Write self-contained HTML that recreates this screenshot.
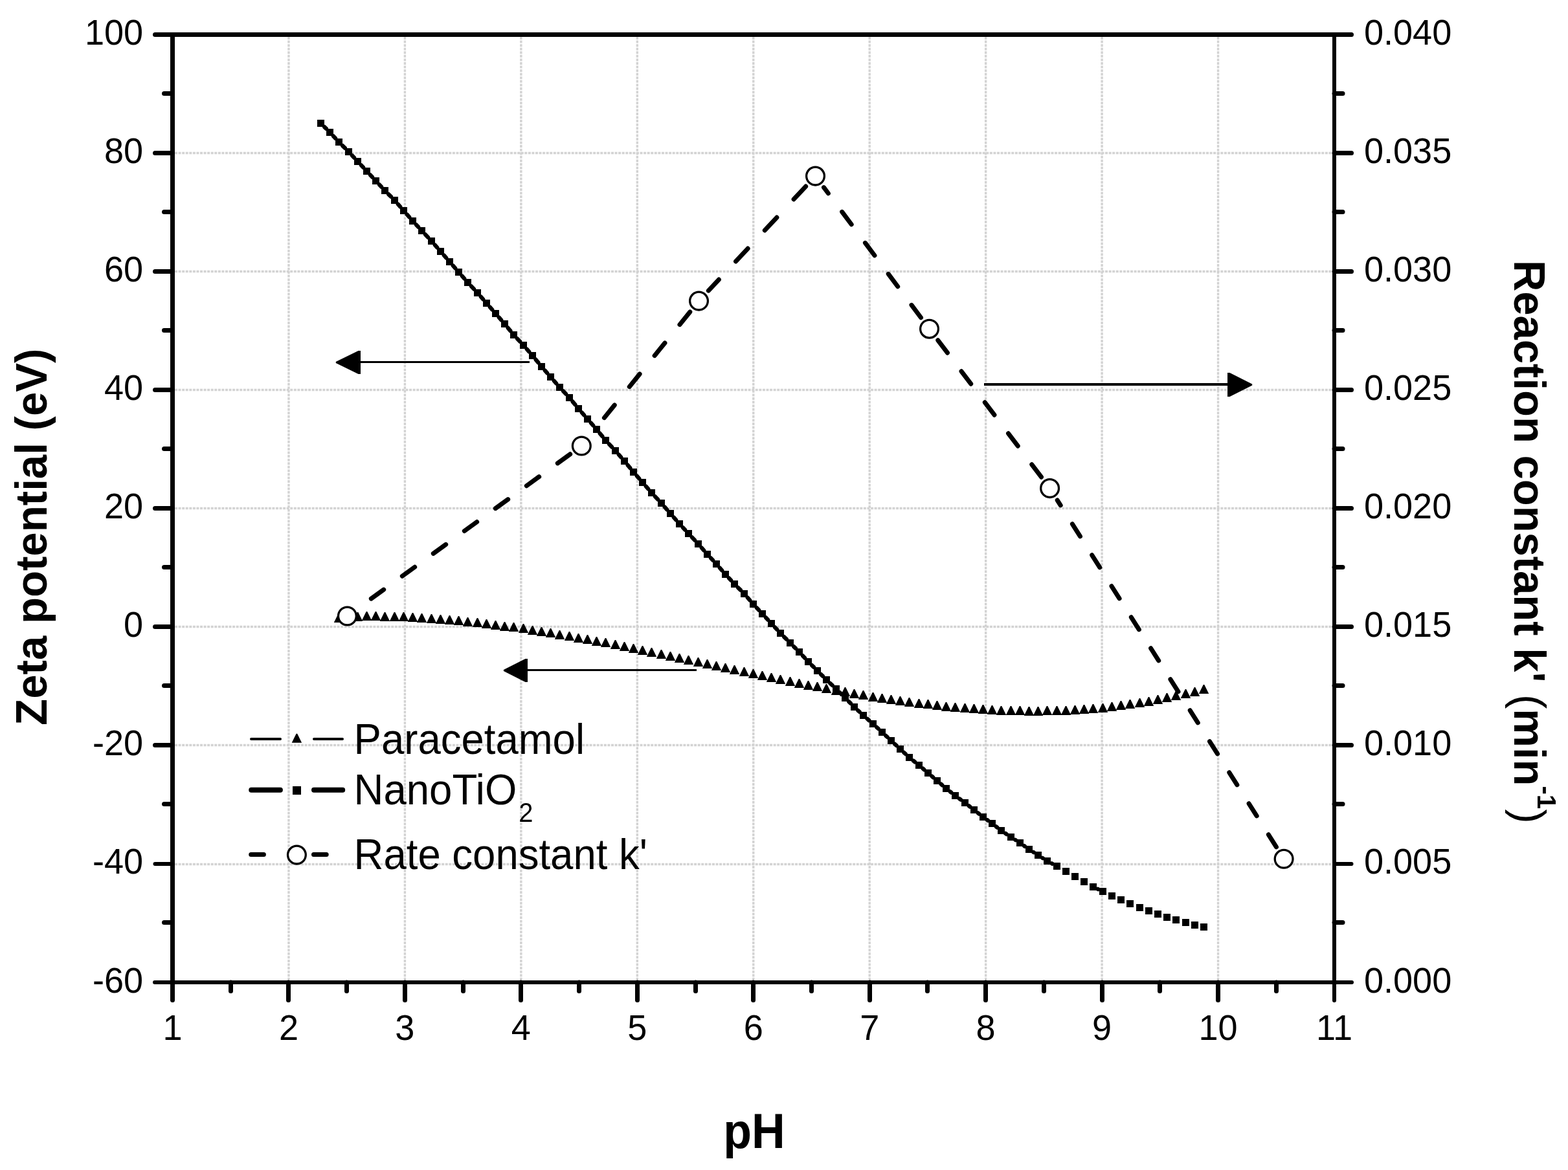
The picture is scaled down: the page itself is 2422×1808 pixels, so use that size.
<!DOCTYPE html>
<html lang="en"><head><meta charset="utf-8"><title>Zeta potential and reaction constant vs pH</title>
<style>html,body{margin:0;padding:0;background:#fff}body{width:2422px;height:1808px;overflow:hidden}svg{display:block}text{fill:#000}</style></head><body>
<svg role="img" aria-label="Zeta potential and reaction constant versus pH" width="2422" height="1808" viewBox="0 0 2422 1808" font-family="'Liberation Sans', sans-serif">
<rect width="2422" height="1808" fill="#fff"/>
<g stroke="#d3d3d3" stroke-width="3.4" stroke-dasharray="4 1.57" fill="none">
<line x1="445.95" y1="57" x2="445.95" y2="1515"/>
<line x1="625.4" y1="57" x2="625.4" y2="1515"/>
<line x1="804.85" y1="57" x2="804.85" y2="1515"/>
<line x1="984.3" y1="57" x2="984.3" y2="1515"/>
<line x1="1163.75" y1="57" x2="1163.75" y2="1515"/>
<line x1="1343.2" y1="57" x2="1343.2" y2="1515"/>
<line x1="1522.65" y1="57" x2="1522.65" y2="1515"/>
<line x1="1702.1" y1="57" x2="1702.1" y2="1515"/>
<line x1="1881.55" y1="57" x2="1881.55" y2="1515"/>
<line x1="270" y1="236.5" x2="2058" y2="236.5"/>
<line x1="270" y1="419.5" x2="2058" y2="419.5"/>
<line x1="270" y1="602.5" x2="2058" y2="602.5"/>
<line x1="270" y1="785.5" x2="2058" y2="785.5"/>
<line x1="270" y1="968.5" x2="2058" y2="968.5"/>
<line x1="270" y1="1151.5" x2="2058" y2="1151.5"/>
<line x1="270" y1="1335.5" x2="2058" y2="1335.5"/>
</g>
<g fill="#000">
<path d="M522.7 948h1.6l6.9 14h-15.4zM537.7 947h1.6l6.9 14h-15.4zM551.7 946h1.6l6.9 14h-15.4zM565.7 945h1.6l6.9 14h-15.4zM579.7 945h1.6l6.9 14h-15.4zM593.7 946h1.6l6.9 14h-15.4zM608.7 946h1.6l6.9 14h-15.4zM622.7 946h1.6l6.9 14h-15.4zM636.7 947h1.6l6.9 14h-15.4zM650.7 948h1.6l6.9 14h-15.4zM665.7 949h1.6l6.9 14h-15.4zM679.7 950h1.6l6.9 14h-15.4zM693.7 951h1.6l6.9 14h-15.4zM707.7 952h1.6l6.9 14h-15.4zM721.7 954h1.6l6.9 14h-15.4zM736.7 955h1.6l6.9 14h-15.4zM750.7 957h1.6l6.9 14h-15.4zM764.7 959h1.6l6.9 14h-15.4zM778.7 961h1.6l6.9 14h-15.4zM792.7 962h1.6l6.9 14h-15.4zM807.7 964h1.6l6.9 14h-15.4zM821.7 967h1.6l6.9 14h-15.4zM835.7 969h1.6l6.9 14h-15.4zM849.7 971h1.6l6.9 14h-15.4zM863.7 974h1.6l6.9 14h-15.4zM878.7 976h1.6l6.9 14h-15.4zM892.7 979h1.6l6.9 14h-15.4zM906.7 981h1.6l6.9 14h-15.4zM920.7 984h1.6l6.9 14h-15.4zM934.7 986h1.6l6.9 14h-15.4zM949.7 989h1.6l6.9 14h-15.4zM963.7 992h1.6l6.9 14h-15.4zM977.7 995h1.6l6.9 14h-15.4zM991.7 998h1.6l6.9 14h-15.4zM1005.7 1001h1.6l6.9 14h-15.4zM1020.7 1004h1.6l6.9 14h-15.4zM1034.7 1007h1.6l6.9 14h-15.4zM1048.7 1010h1.6l6.9 14h-15.4zM1062.7 1013h1.6l6.9 14h-15.4zM1077.7 1016h1.6l6.9 14h-15.4zM1091.7 1019h1.6l6.9 14h-15.4zM1105.7 1022h1.6l6.9 14h-15.4zM1119.7 1025h1.6l6.9 14h-15.4zM1133.7 1028h1.6l6.9 14h-15.4zM1148.7 1031h1.6l6.9 14h-15.4zM1162.7 1034h1.6l6.9 14h-15.4zM1176.7 1037h1.6l6.9 14h-15.4zM1190.7 1040h1.6l6.9 14h-15.4zM1204.7 1043h1.6l6.9 14h-15.4zM1219.7 1046h1.6l6.9 14h-15.4zM1233.7 1049h1.6l6.9 14h-15.4zM1247.7 1052h1.6l6.9 14h-15.4zM1261.7 1054h1.6l6.9 14h-15.4zM1275.7 1057h1.6l6.9 14h-15.4zM1290.7 1060h1.6l6.9 14h-15.4zM1304.7 1062h1.6l6.9 14h-15.4zM1318.7 1065h1.6l6.9 14h-15.4zM1332.7 1067h1.6l6.9 14h-15.4zM1347.7 1070h1.6l6.9 14h-15.4zM1361.7 1072h1.6l6.9 14h-15.4zM1375.7 1074h1.6l6.9 14h-15.4zM1389.7 1076h1.6l6.9 14h-15.4zM1403.7 1078h1.6l6.9 14h-15.4zM1418.7 1080h1.6l6.9 14h-15.4zM1432.7 1081h1.6l6.9 14h-15.4zM1446.7 1083h1.6l6.9 14h-15.4zM1460.7 1085h1.6l6.9 14h-15.4zM1474.7 1086h1.6l6.9 14h-15.4zM1489.7 1087h1.6l6.9 14h-15.4zM1503.7 1088h1.6l6.9 14h-15.4zM1517.7 1089h1.6l6.9 14h-15.4zM1531.7 1090h1.6l6.9 14h-15.4zM1545.7 1091h1.6l6.9 14h-15.4zM1560.7 1091h1.6l6.9 14h-15.4zM1574.7 1091h1.6l6.9 14h-15.4zM1588.7 1092h1.6l6.9 14h-15.4zM1602.7 1092h1.6l6.9 14h-15.4zM1616.7 1091h1.6l6.9 14h-15.4zM1631.7 1091h1.6l6.9 14h-15.4zM1645.7 1091h1.6l6.9 14h-15.4zM1659.7 1090h1.6l6.9 14h-15.4zM1673.7 1089h1.6l6.9 14h-15.4zM1687.7 1088h1.6l6.9 14h-15.4zM1702.7 1087h1.6l6.9 14h-15.4zM1716.7 1085h1.6l6.9 14h-15.4zM1730.7 1083h1.6l6.9 14h-15.4zM1744.7 1081h1.6l6.9 14h-15.4zM1759.7 1079h1.6l6.9 14h-15.4zM1773.7 1077h1.6l6.9 14h-15.4zM1787.7 1074h1.6l6.9 14h-15.4zM1801.7 1071h1.6l6.9 14h-15.4zM1815.7 1068h1.6l6.9 14h-15.4zM1830.7 1065h1.6l6.9 14h-15.4zM1844.7 1062h1.6l6.9 14h-15.4zM1858.7 1058h1.6l6.9 14h-15.4z"/>
</g>
<g stroke="#000" stroke-width="7" stroke-linecap="round" fill="none">
<line x1="880.66" y1="701.82" x2="861.33" y2="715.87"/>
<line x1="832.66" y1="736.7" x2="813.33" y2="750.75"/>
<line x1="784.66" y1="771.58" x2="765.33" y2="785.63"/>
<line x1="736.66" y1="806.46" x2="717.33" y2="820.52"/>
<line x1="688.66" y1="841.35" x2="669.33" y2="855.4"/>
<line x1="640.66" y1="876.23" x2="621.33" y2="890.28"/>
<line x1="592.66" y1="911.11" x2="573.33" y2="925.16"/>
<line x1="1065.79" y1="482.05" x2="1049.96" y2="501.6"/>
<line x1="1026.94" y1="530.05" x2="1011.11" y2="549.6"/>
<line x1="988.09" y1="578.05" x2="972.27" y2="597.6"/>
<line x1="949.25" y1="626.05" x2="933.42" y2="645.6"/>
<line x1="1244.63" y1="288.04" x2="1226.09" y2="307.92"/>
<line x1="1199.86" y1="336.04" x2="1181.32" y2="355.92"/>
<line x1="1155.1" y1="384.04" x2="1136.56" y2="403.92"/>
<line x1="1110.33" y1="432.04" x2="1094.37" y2="449.16"/>
<line x1="1422.47" y1="490.72" x2="1408.02" y2="471.33"/>
<line x1="1386.69" y1="442.72" x2="1372.24" y2="423.33"/>
<line x1="1350.91" y1="394.72" x2="1336.46" y2="375.33"/>
<line x1="1315.13" y1="346.72" x2="1300.67" y2="327.33"/>
<line x1="1279.35" y1="298.72" x2="1272.53" y2="289.58"/>
<line x1="1608.46" y1="737.2" x2="1593.8" y2="717.79"/>
<line x1="1572.21" y1="689.2" x2="1557.55" y2="669.79"/>
<line x1="1535.95" y1="641.2" x2="1521.29" y2="621.79"/>
<line x1="1499.7" y1="593.2" x2="1485.04" y2="573.79"/>
<line x1="1463.45" y1="545.2" x2="1448.79" y2="525.79"/>
<line x1="1971.46" y1="1308.87" x2="1959.42" y2="1289.78"/>
<line x1="1941.17" y1="1260.87" x2="1929.12" y2="1241.78"/>
<line x1="1910.87" y1="1212.87" x2="1898.82" y2="1193.78"/>
<line x1="1880.57" y1="1164.87" x2="1868.52" y2="1145.78"/>
<line x1="1850.27" y1="1116.87" x2="1838.23" y2="1097.78"/>
<line x1="1819.97" y1="1068.87" x2="1807.93" y2="1049.78"/>
<line x1="1789.67" y1="1020.87" x2="1777.63" y2="1001.78"/>
<line x1="1759.37" y1="972.87" x2="1747.33" y2="953.78"/>
<line x1="1729.07" y1="924.87" x2="1717.03" y2="905.78"/>
<line x1="1698.78" y1="876.87" x2="1686.73" y2="857.78"/>
<line x1="1668.48" y1="828.87" x2="1656.43" y2="809.78"/>
<line x1="1638.18" y1="780.87" x2="1633.24" y2="773.03"/>
</g>
<g stroke="#000" stroke-width="6.3" stroke-linecap="round" fill="none">
<path d="M501.16 196.16L503.84 198.84M514.96 210.35L518.04 213.65M529.16 225.16L532.84 228.84M543.96 240.35L547.04 243.65M557.96 255.35L561.04 258.65M571.96 270.35L575.04 273.65M585.96 285.35L589.04 288.65M600.16 300.16L603.84 303.84M614.77 315.52L618.23 319.48M628.77 331.52L632.23 335.48M642.96 347.35L646.04 350.65M656.97 362.34L661.03 366.66M671.77 378.52L675.23 382.48M685.77 394.52L689.23 398.48M699.77 410.52L703.23 414.48M713.77 426.52L717.23 430.48M727.97 442.34L732.03 446.66M742.77 458.52L746.23 462.48M756.77 474.52L760.23 478.48M770.77 490.52L774.23 494.48M784.59 506.68L788.41 511.32M798.97 523.34L803.03 527.66M813.77 539.52L817.23 543.48M827.59 555.68L831.41 560.32M841.77 572.52L845.23 576.48M855.77 588.52L859.23 592.48M869.97 604.34L874.03 608.66M884.59 620.68L888.41 625.32M898.77 637.52L902.23 641.48M912.77 653.52L916.23 657.48M926.59 669.68L930.41 674.32M940.97 686.34L945.03 690.66M955.77 702.52L959.23 706.48M969.59 718.68L973.41 723.32M983.77 735.52L987.23 739.48M997.77 751.52L1001.23 755.48M1011.97 767.34L1016.03 771.66M1026.77 783.52L1030.23 787.48M1040.77 799.52L1044.23 803.48M1054.96 815.35L1058.04 818.65M1068.97 830.34L1073.03 834.66M1083.77 846.52L1087.23 850.48M1097.96 862.35L1101.04 865.65M1111.77 877.52L1115.23 881.48M1125.96 893.35L1129.04 896.65M1140.16 908.16L1143.84 911.84M1154.77 923.52L1158.23 927.48M1168.96 939.35L1172.04 942.65M1182.96 954.35L1186.04 957.65M1196.96 969.35L1200.04 972.65M1211.16 984.16L1214.84 987.84M1226.16 999.16L1228.84 1001.84M1239.96 1013.35L1243.04 1016.65M1254.16 1028.16L1256.84 1030.84M1268.16 1042.16L1270.84 1044.84M1282.35 1055.96L1285.65 1059.04M1297.16 1070.16L1299.84 1072.84M1311.16 1084.16L1313.84 1086.84M1325.36 1097.94L1327.64 1100.06M1339.55 1110.74L1342.45 1113.26M1354.36 1123.94L1356.64 1126.06M1368.36 1136.94L1370.64 1139.06M1382.36 1149.94L1384.64 1152.06M1396.36 1162.94L1398.64 1165.06M1410.75 1175.5L1413.25 1177.5M1425.57 1187.71L1427.43 1189.29M1439.57 1199.71L1441.43 1201.29M1453.57 1211.71L1455.43 1213.29M1467.79 1223.44L1469.21 1224.56M1481.95 1234.23L1484.05 1235.77M1496.79 1245.44L1498.21 1246.56M1510.79 1256.44L1512.21 1257.56M1525.01 1267.15L1525.99 1267.85M1538.79 1277.44L1540.21 1278.56M1553.16 1287.94L1554.84 1289.06M1568.23 1297.83L1568.77 1298.17M1582.01 1307.15L1582.99 1307.85M1596.23 1316.83L1596.77 1317.17M1610.23 1325.83L1610.77 1326.17M1624.56 1334.26L1625.44 1334.74M1695.75 1373.88L1696.25 1374.12"/>
</g>
<g fill="#000" shape-rendering="crispEdges">
<path d="M490 185h11v11h-11zM504 199h11v11h-11zM518 214h11v11h-11zM533 229h11v11h-11zM547 244h11v11h-11zM561 259h11v11h-11zM575 274h11v11h-11zM589 289h11v11h-11zM604 304h11v11h-11zM618 320h11v11h-11zM632 336h11v11h-11zM646 351h11v11h-11zM661 367h11v11h-11zM675 383h11v11h-11zM689 399h11v11h-11zM703 415h11v11h-11zM717 431h11v11h-11zM732 447h11v11h-11zM746 463h11v11h-11zM760 479h11v11h-11zM774 495h11v11h-11zM788 512h11v11h-11zM803 528h11v11h-11zM817 544h11v11h-11zM831 561h11v11h-11zM845 577h11v11h-11zM859 593h11v11h-11zM874 609h11v11h-11zM888 626h11v11h-11zM902 642h11v11h-11zM916 658h11v11h-11zM930 675h11v11h-11zM945 691h11v11h-11zM959 707h11v11h-11zM973 724h11v11h-11zM987 740h11v11h-11zM1001 756h11v11h-11zM1016 772h11v11h-11zM1030 788h11v11h-11zM1044 804h11v11h-11zM1058 819h11v11h-11zM1073 835h11v11h-11zM1087 851h11v11h-11zM1101 866h11v11h-11zM1115 882h11v11h-11zM1129 897h11v11h-11zM1144 912h11v11h-11zM1158 928h11v11h-11zM1172 943h11v11h-11zM1186 958h11v11h-11zM1200 973h11v11h-11zM1215 988h11v11h-11zM1229 1002h11v11h-11zM1243 1017h11v11h-11zM1257 1031h11v11h-11zM1271 1045h11v11h-11zM1286 1059h11v11h-11zM1300 1073h11v11h-11zM1314 1087h11v11h-11zM1328 1100h11v11h-11zM1343 1113h11v11h-11zM1357 1126h11v11h-11zM1371 1139h11v11h-11zM1385 1152h11v11h-11zM1399 1165h11v11h-11zM1414 1177h11v11h-11zM1428 1189h11v11h-11zM1442 1201h11v11h-11zM1456 1213h11v11h-11zM1470 1224h11v11h-11zM1485 1235h11v11h-11zM1499 1246h11v11h-11zM1513 1257h11v11h-11zM1527 1267h11v11h-11zM1541 1278h11v11h-11zM1556 1288h11v11h-11zM1570 1297h11v11h-11zM1584 1307h11v11h-11zM1598 1316h11v11h-11zM1612 1325h11v11h-11zM1627 1333h11v11h-11zM1641 1341h11v11h-11zM1655 1349h11v11h-11zM1669 1357h11v11h-11zM1683 1365h11v11h-11zM1698 1372h11v11h-11zM1712 1379h11v11h-11zM1726 1385h11v11h-11zM1740 1391h11v11h-11zM1755 1397h11v11h-11zM1769 1402h11v11h-11zM1783 1407h11v11h-11zM1797 1412h11v11h-11zM1811 1416h11v11h-11zM1826 1420h11v11h-11zM1840 1424h11v11h-11zM1854 1427h11v11h-11z"/>
</g>
<g stroke="#000" stroke-width="3.3" fill="#fff">
<circle cx="536.4" cy="952" r="13.9"/>
<circle cx="898.3" cy="689" r="13.9"/>
<circle cx="1079.5" cy="465.1" r="13.9"/>
<circle cx="1259.5" cy="272.1" r="13.9"/>
<circle cx="1435.5" cy="508.2" r="13.9"/>
<circle cx="1621.6" cy="754.6" r="13.9"/>
<circle cx="1983.1" cy="1327.3" r="13.9"/>
</g>
<line x1="556" y1="559.5" x2="817.6" y2="559.5" stroke="#000" stroke-width="3" shape-rendering="crispEdges"/>
<path d="M518.8 559.1L518.8 560.9L553.5 578H557V542H553.5L518.8 559.1z" fill="#000"/>
<line x1="1897" y1="594" x2="1519.5" y2="594" stroke="#000" stroke-width="4" shape-rendering="crispEdges"/>
<path d="M1934.2 593.6L1934.2 595.4L1899.5 613H1896V576H1899.5L1934.2 593.6z" fill="#000"/>
<line x1="814" y1="1035.5" x2="1075.8" y2="1035.5" stroke="#000" stroke-width="3" shape-rendering="crispEdges"/>
<path d="M777.9 1035.1L777.9 1036.9L811.5 1054H815V1018H811.5L777.9 1035.1z" fill="#000"/>
<g stroke="#000" fill="none" stroke-linecap="round">
<line x1="239.5" y1="53.5" x2="2087.5" y2="53.5" stroke-width="7"/>
<line x1="239" y1="1518" x2="2088" y2="1518" stroke-width="6"/>
<line x1="266.5" y1="53.5" x2="266.5" y2="1545.5" stroke-width="7"/>
<line x1="2061" y1="53.5" x2="2061" y2="1546" stroke-width="6"/>
<line x1="253.5" y1="144.5" x2="266.5" y2="144.5" stroke-width="7"/>
<line x1="2061" y1="144.5" x2="2074" y2="144.5" stroke-width="7"/>
<line x1="239.5" y1="236.5" x2="266.5" y2="236.5" stroke-width="7"/>
<line x1="2061" y1="236.5" x2="2087.5" y2="236.5" stroke-width="7"/>
<line x1="253.5" y1="327.5" x2="266.5" y2="327.5" stroke-width="7"/>
<line x1="2061" y1="327.5" x2="2074" y2="327.5" stroke-width="7"/>
<line x1="239.5" y1="419.5" x2="266.5" y2="419.5" stroke-width="7"/>
<line x1="2061" y1="419.5" x2="2087.5" y2="419.5" stroke-width="7"/>
<line x1="253.5" y1="510.5" x2="266.5" y2="510.5" stroke-width="7"/>
<line x1="2061" y1="510.5" x2="2074" y2="510.5" stroke-width="7"/>
<line x1="239.5" y1="602.5" x2="266.5" y2="602.5" stroke-width="7"/>
<line x1="2061" y1="602.5" x2="2087.5" y2="602.5" stroke-width="7"/>
<line x1="253.5" y1="693.5" x2="266.5" y2="693.5" stroke-width="7"/>
<line x1="2061" y1="693.5" x2="2074" y2="693.5" stroke-width="7"/>
<line x1="239.5" y1="785.5" x2="266.5" y2="785.5" stroke-width="7"/>
<line x1="2061" y1="785.5" x2="2087.5" y2="785.5" stroke-width="7"/>
<line x1="253.5" y1="876.5" x2="266.5" y2="876.5" stroke-width="7"/>
<line x1="2061" y1="876.5" x2="2074" y2="876.5" stroke-width="7"/>
<line x1="239.5" y1="968.5" x2="266.5" y2="968.5" stroke-width="7"/>
<line x1="2061" y1="968.5" x2="2087.5" y2="968.5" stroke-width="7"/>
<line x1="253.5" y1="1059.5" x2="266.5" y2="1059.5" stroke-width="7"/>
<line x1="2061" y1="1059.5" x2="2074" y2="1059.5" stroke-width="7"/>
<line x1="239.5" y1="1151.5" x2="266.5" y2="1151.5" stroke-width="7"/>
<line x1="2061" y1="1151.5" x2="2087.5" y2="1151.5" stroke-width="7"/>
<line x1="253.5" y1="1242.5" x2="266.5" y2="1242.5" stroke-width="7"/>
<line x1="2061" y1="1242.5" x2="2074" y2="1242.5" stroke-width="7"/>
<line x1="239.5" y1="1335" x2="266.5" y2="1335" stroke-width="6"/>
<line x1="2061" y1="1335" x2="2087.5" y2="1335" stroke-width="6"/>
<line x1="253.5" y1="1425.5" x2="266.5" y2="1425.5" stroke-width="7"/>
<line x1="2061" y1="1425.5" x2="2074" y2="1425.5" stroke-width="7"/>
<line x1="356.5" y1="1518" x2="356.5" y2="1531.5" stroke-width="7"/>
<line x1="445.5" y1="1518" x2="445.5" y2="1545.5" stroke-width="7"/>
<line x1="535.5" y1="1518" x2="535.5" y2="1531.5" stroke-width="7"/>
<line x1="625.5" y1="1518" x2="625.5" y2="1545.5" stroke-width="7"/>
<line x1="715.5" y1="1518" x2="715.5" y2="1531.5" stroke-width="7"/>
<line x1="804.5" y1="1518" x2="804.5" y2="1545.5" stroke-width="7"/>
<line x1="894.5" y1="1518" x2="894.5" y2="1531.5" stroke-width="7"/>
<line x1="984.5" y1="1518" x2="984.5" y2="1545.5" stroke-width="7"/>
<line x1="1074.5" y1="1518" x2="1074.5" y2="1531.5" stroke-width="7"/>
<line x1="1163.5" y1="1518" x2="1163.5" y2="1545.5" stroke-width="7"/>
<line x1="1253.5" y1="1518" x2="1253.5" y2="1531.5" stroke-width="7"/>
<line x1="1343.5" y1="1518" x2="1343.5" y2="1545.5" stroke-width="7"/>
<line x1="1432.5" y1="1518" x2="1432.5" y2="1531.5" stroke-width="7"/>
<line x1="1522.5" y1="1518" x2="1522.5" y2="1545.5" stroke-width="7"/>
<line x1="1612.5" y1="1518" x2="1612.5" y2="1531.5" stroke-width="7"/>
<line x1="1702.5" y1="1518" x2="1702.5" y2="1545.5" stroke-width="7"/>
<line x1="1791.5" y1="1518" x2="1791.5" y2="1531.5" stroke-width="7"/>
<line x1="1881.5" y1="1518" x2="1881.5" y2="1545.5" stroke-width="7"/>
<line x1="1971.5" y1="1518" x2="1971.5" y2="1531.5" stroke-width="7"/>
</g>
<text transform="translate(221.2 68.8) scale(1 1.035)" font-size="54.1" text-anchor="end">100</text>
<text transform="translate(2106.9 68.8) scale(1 1.035)" font-size="54.1">0.040</text>
<text transform="translate(221.2 251.8) scale(1 1.035)" font-size="54.1" text-anchor="end">80</text>
<text transform="translate(2106.9 251.8) scale(1 1.035)" font-size="54.1">0.035</text>
<text transform="translate(221.2 434.8) scale(1 1.035)" font-size="54.1" text-anchor="end">60</text>
<text transform="translate(2106.9 434.8) scale(1 1.035)" font-size="54.1">0.030</text>
<text transform="translate(221.2 617.8) scale(1 1.035)" font-size="54.1" text-anchor="end">40</text>
<text transform="translate(2106.9 617.8) scale(1 1.035)" font-size="54.1">0.025</text>
<text transform="translate(221.2 800.8) scale(1 1.035)" font-size="54.1" text-anchor="end">20</text>
<text transform="translate(2106.9 800.8) scale(1 1.035)" font-size="54.1">0.020</text>
<text transform="translate(221.2 983.8) scale(1 1.035)" font-size="54.1" text-anchor="end">0</text>
<text transform="translate(2106.9 983.8) scale(1 1.035)" font-size="54.1">0.015</text>
<text transform="translate(221.2 1166.8) scale(1 1.035)" font-size="54.1" text-anchor="end">-20</text>
<text transform="translate(2106.9 1166.8) scale(1 1.035)" font-size="54.1">0.010</text>
<text transform="translate(221.2 1350.3) scale(1 1.035)" font-size="54.1" text-anchor="end">-40</text>
<text transform="translate(2106.9 1350.3) scale(1 1.035)" font-size="54.1">0.005</text>
<text transform="translate(221.2 1533.8) scale(1 1.035)" font-size="54.1" text-anchor="end">-60</text>
<text transform="translate(2106.9 1533.8) scale(1 1.035)" font-size="54.1">0.000</text>
<text transform="translate(266.5 1606.8) scale(1 1.035)" font-size="54.1" text-anchor="middle">1</text>
<text transform="translate(445.95 1606.8) scale(1 1.035)" font-size="54.1" text-anchor="middle">2</text>
<text transform="translate(625.4 1606.8) scale(1 1.035)" font-size="54.1" text-anchor="middle">3</text>
<text transform="translate(804.85 1606.8) scale(1 1.035)" font-size="54.1" text-anchor="middle">4</text>
<text transform="translate(984.3 1606.8) scale(1 1.035)" font-size="54.1" text-anchor="middle">5</text>
<text transform="translate(1163.75 1606.8) scale(1 1.035)" font-size="54.1" text-anchor="middle">6</text>
<text transform="translate(1343.2 1606.8) scale(1 1.035)" font-size="54.1" text-anchor="middle">7</text>
<text transform="translate(1522.65 1606.8) scale(1 1.035)" font-size="54.1" text-anchor="middle">8</text>
<text transform="translate(1702.1 1606.8) scale(1 1.035)" font-size="54.1" text-anchor="middle">9</text>
<text transform="translate(1881.55 1606.8) scale(1 1.035)" font-size="54.1" text-anchor="middle">10</text>
<text transform="translate(2061 1606.8) scale(1 1.035)" font-size="54.1" text-anchor="middle">11</text>
<text transform="translate(1117.28 1773.9) scale(1 1.072)" font-size="71.6" font-weight="bold">pH</text>
<text transform="translate(72.1 1120.9) rotate(-90) scale(1 1.03)" font-size="67.2" font-weight="bold">Zeta potential (eV)</text>
<text transform="translate(2339 401.95) rotate(90) scale(1 1.03)" font-size="67" font-weight="bold">Reaction constant k' <tspan font-weight="normal">(</tspan>min<tspan font-size="40.2" dy="-34.7">-1</tspan><tspan font-weight="normal" dy="34.7">)</tspan></text>
<g stroke="#000" stroke-linecap="round" fill="none">
<path d="M388 1142H433M485 1142H529" stroke-width="4"/>
<path d="M388.2 1220.7H432.9M485 1220.7H529.2" stroke-width="8"/>
<path d="M387.7 1320.6H407.4M484.5 1320.6H504.2" stroke-width="7"/>
</g>
<path d="M457.6 1133.8h1.6l6.9 14h-15.4z" fill="#000"/>
<rect x="452" y="1215" width="13" height="13" fill="#000" shape-rendering="crispEdges"/>
<circle cx="458.4" cy="1321.1" r="13.9" stroke="#000" stroke-width="3.3" fill="#fff"/>
<text transform="translate(546.59 1164.7) scale(1 1.045)" font-size="63.5">Paracetamol</text>
<text transform="translate(546.59 1243.3) scale(1 1.045)" font-size="63.5">NanoTiO<tspan font-size="40" dx="3" dy="25.2">2</tspan></text>
<text transform="translate(546.59 1343.2) scale(1 1.045)" font-size="63.5">Rate constant k'</text>
</svg></body></html>
